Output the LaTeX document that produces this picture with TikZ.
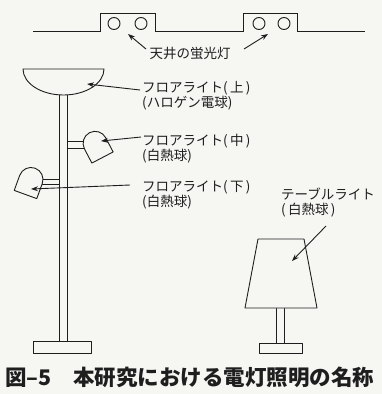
\documentclass[tikz,border=0pt]{standalone}
\usepackage{fontspec}
\setmainfont{Noto Sans CJK JP}
\usetikzlibrary{arrows.meta}
\definecolor{paper}{RGB}{246,246,243}
\definecolor{ink}{RGB}{30,30,30}

\begin{document}
\begin{tikzpicture}[x=1pt, y=1pt,
    line/.style={draw=ink, line width=0.9pt},
    lamp/.style={line, fill=paper, line join=round},
    ptr/.style={line, -{Stealth[length=7pt,width=5pt]}},
    lbl/.style={font=\fontsize{13.5}{15}\selectfont, text=ink, align=left,
      anchor=west, inner sep=0pt},
    head/.pic={\path[lamp] (-12,0) -- (-12,16)
      arc[start angle=180, end angle=0, radius=12] -- (12,0) -- cycle;}
  ]
  \fill[paper] (0,0) rectangle (382,-394);
  \useasboundingbox (0,0) rectangle (382,-394);

  % ceiling and the two recessed fittings
  \draw[line] (33,-31.5) -- (100,-31.5) -- (100,-13) -- (155,-13) -- (155,-31.5)
    -- (243,-31.5) -- (243,-13) -- (297,-13) -- (297,-31.5) -- (365,-31.5);
  \foreach \cx in {114,141,259,284}
    \draw[line] (\cx,-23.5) circle[radius=6];

  % floor lamp: bowl, pole, base
  \draw[lamp] (104,-69) arc[start angle=0, end angle=-180, x radius=40.5, y radius=26] -- cycle;
  \draw[line] (59,-94.8) -- (59,-341) (67,-94.8) -- (67,-341);
  \draw[lamp] (33,-341) rectangle (91,-353);
  % side arms and heads
  \draw[line] (67,-141) -- (90,-141) (67,-148) -- (90,-148);
  \draw[line] (38,-179) -- (59,-179) (38,-184) -- (59,-184);
  \pic[rotate=27.6] at (102.5,-157.5) {head};
  \pic[rotate=-20] at (25.5,-194.5) {head};

  % table lamp
  \draw[line] (276,-308) -- (276,-343) (284,-308) -- (284,-343);
  \draw[lamp] (258,-239) -- (304,-239) -- (317,-308) -- (245,-308) -- cycle;
  \draw[lamp] (259,-343) rectangle (302,-353);

  % labels
  \node[lbl, anchor=center] (ceil) at (190,-53) {天井の蛍光灯};
  \node[lbl] (upper) at (142,-96)  {フロアライト(\,上\,)\\(ハロゲン電球)};
  \node[lbl] (mid)   at (142,-148.5) {フロアライト(\,中\,)\\(白熱球)};
  \node[lbl] (low)   at (142,-195) {フロアライト(\,下\,)\\(白熱球)};
  \node[lbl] (table) at (281,-202.5) {テーブルライト\\(\,白熱球\,)};

  \coordinate (c1) at (128,-34);  \coordinate (c2) at (268,-34);
  \coordinate (bowl) at (87,-84); \coordinate (hmid) at (101,-141);
  \coordinate (hlow) at (31,-189); \coordinate (shade) at (292,-261);

  \draw[ptr] (146,-49) -- (c1);
  \draw[ptr] (244,-49) -- (c2);
  \draw[ptr] (140,-90) -- (bowl);
  \draw[ptr] (141,-137) -- (hmid);
  \draw[ptr] (130,-185) -- (hlow);
  \draw[ptr] (326,-226) -- (shade);

  \node[anchor=west, inner sep=0pt, text=ink, font=\fontsize{21.5}{24}\selectfont\bfseries]
    (cap) at (5,-377) {図–5\quad 本研究における電灯照明の名称};
\end{tikzpicture}
\end{document}
